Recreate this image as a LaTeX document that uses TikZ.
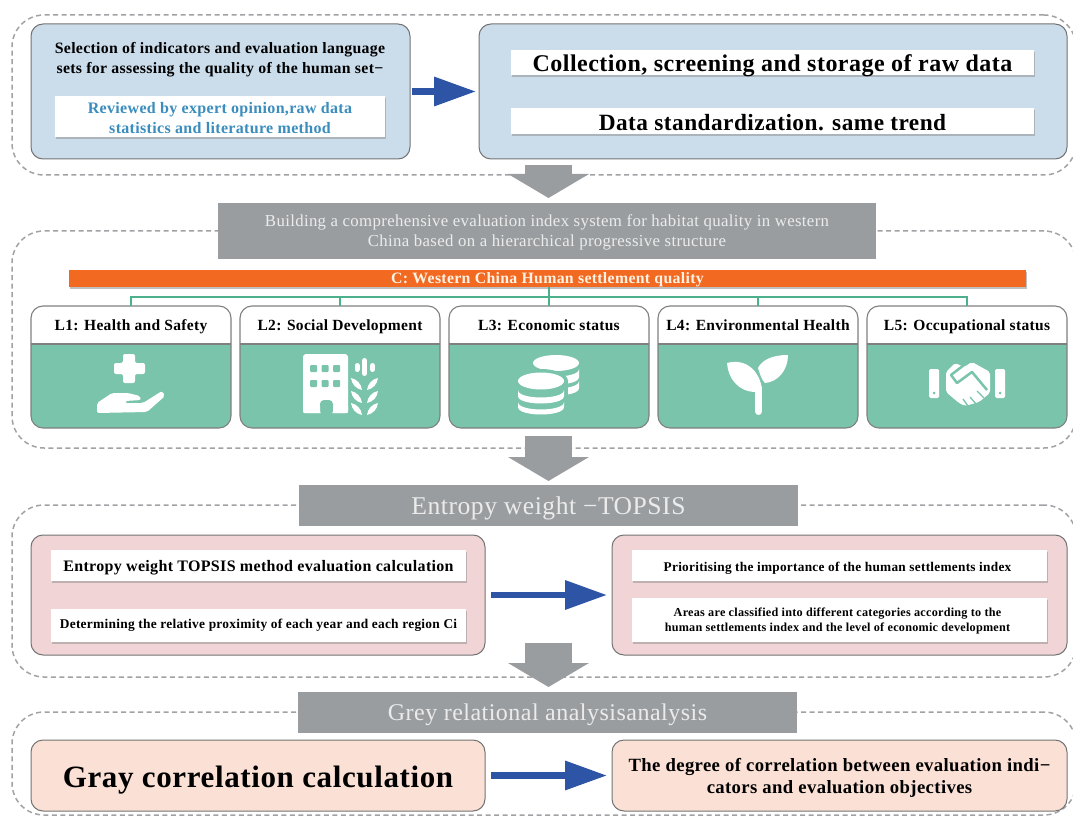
\documentclass[tikz,border=0pt]{standalone}
\usepackage{fontspec}
\setmainfont[LetterSpace=2]{Liberation Serif}
\usetikzlibrary{arrows.meta,shadows}
\definecolor{framegray}{HTML}{A0A2A5}
\definecolor{headgray}{HTML}{9A9DA0}
\definecolor{paleblue}{HTML}{CBDCEB}
\definecolor{palepink}{HTML}{F1D5D6}
\definecolor{palepeach}{HTML}{FBE0D5}
\definecolor{leafgreen}{HTML}{79C4AA}
\definecolor{linkgreen}{HTML}{4CB08C}
\definecolor{barorange}{HTML}{F26A21}
\definecolor{arrowblue}{HTML}{2E55A5}
\definecolor{noteblue}{HTML}{3A8DBD}
\newcommand{\fsz}[2]{\fontsize{#1}{#2}\selectfont}
\newcommand{\coinband}[3]{\fill[white] ({#1-23},#2) -- ({#1-23},{#2+#3}) .. controls ({#1-23},{#2+#3+10}) and ({#1+23},{#2+#3+10}) .. ({#1+23},{#2+#3}) -- ({#1+23},#2) .. controls ({#1+23},{#2+10}) and ({#1-23},{#2+10}) .. cycle;}
\begin{document}
\begin{tikzpicture}[x=1pt, y=-1pt, node distance={209pt}, outer sep=0pt,
	framebox/.style = {draw=framegray, line width=1.5pt, dash pattern=on 5pt off 3.5pt, rounded corners=32pt, minimum width=1064pt},
	outerbox/.style = {draw=black!55, line width=1pt, rounded corners=12pt, minimum height=#1},
	inbox/.style = {fill=white, inner sep=0pt, drop shadow={shadow xshift=1pt, shadow yshift=-2pt, fill=black!45, opacity=.5}},
	graybar/.style = {fill=headgray, inner sep=0pt},
	boxtext/.style = {align=center, inner sep=0pt},
	graytext/.style = {boxtext, text=white!92!black},
	lbox/.style = {draw=black!50, fill=leafgreen, line width=1.1pt, rounded corners=12pt, minimum width=200pt, minimum height=122pt,
		path picture={\fill[white, sharp corners] (path picture bounding box.north west) rectangle ([yshift=-38pt]path picture bounding box.north east);
			\draw[black!50, line width=1.1pt, sharp corners] ([yshift=-38pt]path picture bounding box.north west) -- ([yshift=-38pt]path picture bounding box.north east);}},
	ltitle/.style = {font=\fsz{15.5}{18}\bfseries, text height=11pt, text depth=3.5pt},
	link/.style = {draw=linkgreen, line width=1.2pt},
	bluearrow/.style = {draw=arrowblue, line width=6.5pt, -{Triangle[length=42pt, width=28pt, fill=arrowblue]}},
	bigarrow/.style = {draw=headgray, line width=47pt, -{Triangle[length=24pt, width=80pt, fill=headgray]}}]
\clip (0,0) rectangle (1073,818);
\node[framebox, minimum height=160pt] (frame1) at (544,95) {};
\node[framebox, minimum height=217pt] (frame2) at (544,339.5) {};
\node[framebox, minimum height=172pt] (frame3) at (544,591) {};
\node[framebox, minimum height=103pt] (frame4) at (544,763.5) {};

\node[outerbox=135pt, fill=paleblue, minimum width=379pt] (select) at (220.5,91.5) {};
\node[outerbox=135pt, fill=paleblue, minimum width=588pt] (collect) at (773,91.5) {};
\node[boxtext, font=\fsz{15.8}{20}\bfseries] (selecttext) at (220,60) {Selection of indicators and evaluation language\\sets for assessing the quality of the human set−};
\node[inbox, minimum width=330pt, minimum height=41pt, label={[boxtext, yshift=-1.5pt, text=noteblue, font=\fsz{16}{19.5}\bfseries]center:{Reviewed by expert opinion,raw data\\statistics and literature method}}] (review) at (220,116.5) {};
\node[inbox, minimum width=523pt, minimum height=25pt, label={[boxtext, yshift=-3pt, font=\fsz{24}{26}\bfseries]center:{Collection, screening and storage of raw data}}] (rawdata) at (772.5,62.5) {};
\node[inbox, minimum width=523pt, minimum height=26pt, label={[boxtext, yshift=-2pt, font=\fsz{23.3}{26}\bfseries]center:{Data standardization. same trend}}] (standard) at (772.5,121) {};

\node[graybar, minimum width=658pt, minimum height=56pt, label={[graytext, yshift=-1pt, font=\fsz{16.8}{20}]center:{Building a comprehensive evaluation index system for habitat quality in western\\China based on a hierarchical progressive structure}}] (index) at (547,231) {};
\node[fill=barorange, minimum width=957pt, minimum height=17pt, inner sep=0pt, drop shadow={shadow xshift=1pt, shadow yshift=-2pt, fill=black!50, opacity=.5}, label={[boxtext, yshift=-1.5pt, text=white!90!orange, font=\fsz{15.8}{16}\bfseries]center:{C: Western China Human settlement quality}}] (goal) at (547.5,278.5) {};

\node[lbox] (l1) at (131,367) {};
\node[lbox] (l2) [right of=l1] {};
\node[lbox] (l3) [right of=l2] {};
\node[lbox] (l4) [right of=l3] {};
\node[lbox] (l5) [right of=l4] {};
\node[ltitle] (t1) at (131,326.25) {L1: Health and Safety};
\node[ltitle] (t2) at (340,326.25) {L2: Social Development};
\node[ltitle] (t3) at (549,326.25) {L3: Economic status};
\node[ltitle] (t4) at (758,326.25) {L4: Environmental Health};
\node[ltitle] (t5) at (967,326.25) {L5: Occupational status};
\coordinate (bus) at (549,297);
\draw[link] (l1.north) -- (l1.north |- bus) -- (l5.north |- bus) -- (l5.north);
\draw[link] (l2.north) -- (l2.north |- bus);
\draw[link] (l3.north) -- (l3.north |- goal.south);
\draw[link] (l4.north) -- (l4.north |- bus);

\fill[white, rounded corners=2pt] (123,354) -- (135,354) -- (135,363) -- (145,363) -- (145,374) -- (135,374) -- (135,383) -- (123,383) -- (123,374) -- (114,374) -- (114,363) -- (123,363) -- cycle;
\fill[white, rounded corners=2pt] (97,403) -- (112,393) -- (128,393) -- (140,396) -- (141,400) -- (125,401) -- (125,403) -- (143,403) -- (162,391) -- (165,396) -- (147,412) -- (97,413) -- cycle;

\fill[white, rounded corners=3pt] (303,354) rectangle (348,413);
\fill[leafgreen, rounded corners=1pt] (310,365) rectangle +(7,7) (321.5,365) rectangle +(7,7) (333,365) rectangle +(7,7) (310,380) rectangle +(7,7) (321.5,380) rectangle +(7,7) (333,380) rectangle +(7,7);
\fill[leafgreen, rounded corners=4pt] (320,415) -- (320,400) -- (333,400) -- (333,415) -- cycle;
\fill[white, rounded corners=1pt] (303,405) rectangle (320,413) (333,405) rectangle (348,413);
\draw[white, line width=5pt, line cap=round] (364.5,360.5) -- (364.5,373.5) (357,365.5) -- (357,369.5) (372.5,365.5) -- (372.5,369.5);
\fill[white] (351,378) to[bend left=35] (362,390) to[bend left=35] cycle (378,378) to[bend right=35] (367,390) to[bend right=35] cycle;
\fill[white] (351,391) to[bend left=35] (362,403) to[bend left=35] cycle (378,391) to[bend right=35] (367,403) to[bend right=35] cycle;
\fill[white] (351,403) to[bend left=35] (362,415) to[bend left=35] cycle (378,403) to[bend right=35] (367,415) to[bend right=35] cycle;

\fill[white] (556,363) ellipse [x radius=23pt, y radius=8pt];
\coinband{556}{369}{8}
\coinband{556}{381}{7}
\fill[leafgreen] (541,381) ellipse [x radius=27pt, y radius=12pt];
\fill[leafgreen] (514,381) rectangle (568,405);
\fill[white] (541,381) ellipse [x radius=23pt, y radius=8.5pt];
\coinband{541}{390}{6}
\coinband{541}{402}{5}

\draw[white, line width=7pt, line cap=round] (758.5,388) -- (758.5,411.5);
\fill[white] (727,363) .. controls (745,358) and (760,370) .. (762,390) -- (756,392) .. controls (738,392) and (728,378) .. cycle;
\fill[white] (788,355) .. controls (772,355) and (762,360) .. (758,368) .. controls (760,375) and (762,380) .. (765,383) .. controls (778,382) and (788,370) .. cycle;

\fill[white, rounded corners=1.5pt] (929,369) rectangle (939,398) (995,369) rectangle (1005,398);
\fill[leafgreen] (934,393) circle (1.5pt) (1000,393) circle (1.5pt);
\fill[white, rounded corners=2pt] (946,372) -- (955,363) -- (964,367) -- (972,362) -- (990,372) -- (990,393) -- (979,402) -- (965,406) -- (959,403) -- (946,392) -- cycle;
\draw[leafgreen, line width=2.5pt, line join=round] (964,365) -- (951,375) -- (957,383) -- (972,372) -- (987,390);
\draw[leafgreen, line width=1.3pt] (968,406) -- (963,399) (976,404) -- (970,397) (984,398) -- (977,391);

\node[graybar, minimum width=499pt, minimum height=41pt, label={[graytext, yshift=-3pt, font=\fsz{25.6}{27}]center:{Entropy weight −TOPSIS}}] (entropy) at (548.5,505.5) {};
\node[outerbox=120pt, fill=palepink, minimum width=454pt] (topcalc) at (258,595) {};
\node[outerbox=120pt, fill=palepink, minimum width=455pt] (topres) at (839.5,595) {};
\node[inbox, minimum width=415pt, minimum height=31pt, label={[boxtext, yshift=-2pt, font=\fsz{16}{18}\bfseries]center:{Entropy weight TOPSIS method evaluation calculation}}] (evalcalc) at (258.5,565.5) {};
\node[inbox, minimum width=415pt, minimum height=33pt, label={[boxtext, font=\fsz{13.4}{16}\bfseries]center:{Determining the relative proximity of each year and each region Ci}}] (proximity) at (258.5,625.5) {};
\node[inbox, minimum width=415pt, minimum height=31pt, label={[boxtext, xshift=-2pt, yshift=-2.5pt, font=\fsz{13.3}{16}\bfseries]center:{Prioritising the importance of the human settlements index}}] (priority) at (839.5,565.5) {};
\node[inbox, minimum width=415pt, minimum height=44pt, label={[boxtext, xshift=-2pt, yshift=-1pt, font=\fsz{12.2}{15}\bfseries]center:{Areas are classified into different categories according to the\\human settlements index and the level of economic development}}] (classify) at (839.5,620) {};

\node[graybar, minimum width=499pt, minimum height=41pt, label={[graytext, yshift=-2pt, font=\fsz{24}{26}]center:{Grey relational analysisanalysis}}] (grey) at (547.5,712.5) {};
\node[outerbox=71pt, fill=palepeach, minimum width=454pt, label={[boxtext, yshift=-5pt, font=\fsz{31}{34}\bfseries]center:{Gray correlation calculation}}] (graycalc) at (258,775.5) {};
\node[outerbox=71pt, fill=palepeach, minimum width=455pt, label={[boxtext, yshift=-2.5pt, font=\fsz{18.7}{22}\bfseries]center:{The degree of correlation between evaluation indi−\\cators and evaluation objectives}}] (degree) at (839.5,775.5) {};

\coordinate (top1) at (548.5,165);
\coordinate (top2) at (548.5,436);
\coordinate (top3) at (548.5,643);
\draw[bigarrow, shorten >=5pt] (top1) -- (top1 |- index.north);
\draw[bigarrow, shorten >=4pt] (top2) -- (top2 |- entropy.north);
\draw[bigarrow, shorten >=5pt] (top3) -- (top3 |- grey.north);

\draw[bluearrow, shorten <=2pt, shorten >=3pt] (select) -- (collect);
\draw[bluearrow, shorten <=6pt, shorten >=5pt] (topcalc) -- (topres);
\draw[bluearrow, shorten <=6pt, shorten >=5pt] (graycalc) -- (degree);
\end{tikzpicture}
\end{document}
